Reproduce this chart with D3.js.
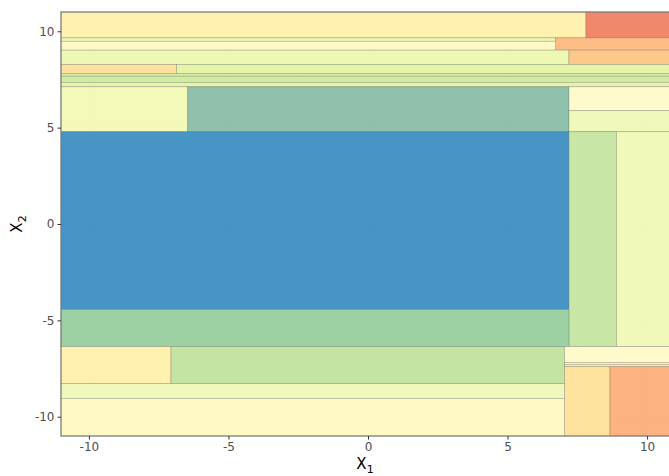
<!DOCTYPE html>
<html>
<head>
<meta charset="utf-8">
<script src="https://cdn.jsdelivr.net/npm/d3@7"></script>
<style>
  body { margin: 0; background: #fff; }
  text { font-family: "DejaVu Sans", sans-serif; }
</style>
</head>
<body>
<svg id="chart" width="669" height="476"></svg>
<script>
// fill colour of each leaf region
var levels = ["L1", "L2", "L3", "L4", "L5", "L6", "L7", "L8", "L9", "L10", "L11", "L12", "L13", "L14",
  "L15", "L16", "L17", "L18", "L19", "L20", "L21", "L22", "L23", "L24", "L25"]
var levelColors = ["#fff0aa", "#ef7f61", "#ecf6b0", "#fdb87c", "#fff9c2", "#edf7ae", "#fec482",
  "#fedf96", "#e3f3a2", "#d9eea0", "#cfe99c", "#e5f3a8", "#f2f9b3", "#87bca6", "#fffac8",
  "#f0f8b6", "#388dc1", "#c4e59f", "#eff8b5", "#96ce9c", "#bfe29b", "#fff4b4", "#fee198",
  "#fdad76", "#fff9c0"]

// regions: [x1 min, x1 max, x2 min, x2 max, level]
var regions = [
  [-11, 7.81, 9.66, 11, "L1"],
  [7.81, 11, 9.66, 11, "L2"],
  [-11, 6.72, 9.48, 9.66, "L3"],
  [6.72, 11, 9.02, 9.66, "L4"],
  [-11, 6.72, 9.02, 9.48, "L5"],
  [-11, 7.20, 8.28, 9.02, "L6"],
  [7.20, 11, 8.28, 9.02, "L7"],
  [-11, -6.86, 7.81, 8.28, "L8"],
  [-6.86, 11, 7.81, 8.28, "L9"],
  [-11, 11, 7.67, 7.81, "L10"],
  [-11, 11, 7.35, 7.67, "L11"],
  [-11, 11, 7.12, 7.35, "L12"],
  [-11, -6.46, 4.79, 7.12, "L13"],
  [-6.46, 7.20, 4.79, 7.12, "L14"],
  [7.20, 11, 5.88, 7.12, "L15"],
  [7.20, 11, 4.79, 5.88, "L16"],
  [-11, 7.20, -4.43, 4.79, "L17"],
  [7.20, 8.90, -6.36, 4.79, "L18"],
  [8.90, 11, -6.36, 4.79, "L19"],
  [-11, 7.20, -6.36, -4.43, "L20"],
  [-11, -7.06, -8.28, -6.36, "L1"],
  [-7.06, 7.04, -8.28, -6.36, "L21"],
  [7.04, 11, -7.18, -6.36, "L15"],
  [7.04, 11, -7.29, -7.18, "L22"],
  [7.04, 11, -7.40, -7.29, "L1"],
  [7.04, 8.67, -11, -7.40, "L23"],
  [8.67, 11, -11, -7.40, "L24"],
  [-11, 7.04, -9.05, -8.28, "L16"],
  [-11, 7.04, -11, -9.05, "L25"]
]

var xTicks = [-10, -5, 0, 5, 10]
var yTicks = [-10, -5, 0, 5, 10]
var xDomain = [-11, 11]
var yDomain = [-11, 11]

var svg = d3.select("#chart")
var margin = { top: 12, left: 61, bottom: 40 }
var panelW = 614, panelH = 476 - margin.top - margin.bottom

var x = d3.scaleLinear().domain(xDomain).range([margin.left, margin.left + panelW])
var y = d3.scaleLinear().domain(yDomain).range([margin.top + panelH, margin.top])
var color = d3.scaleOrdinal().domain(levels).range(levelColors)

// panel background + grid
svg.append("rect")
  .attr("x", x(xDomain[0])).attr("y", y(yDomain[1]))
  .attr("width", x(xDomain[1]) - x(xDomain[0]))
  .attr("height", y(yDomain[0]) - y(yDomain[1]))
  .attr("fill", "#fff")

var grid = svg.append("g")
grid.selectAll("line.gx")
  .data(d3.range(-10, 11, 2.5))
  .enter().append("line")
  .attr("x1", d => x(d)).attr("x2", d => x(d))
  .attr("y1", y(yDomain[0])).attr("y2", y(yDomain[1]))
  .attr("stroke", "#e6e6e6").attr("stroke-width", d => d % 5 == 0 ? 1 : 0.5)
grid.selectAll("line.gy")
  .data(d3.range(-10, 11, 2.5))
  .enter().append("line")
  .attr("y1", d => y(d)).attr("y2", d => y(d))
  .attr("x1", x(xDomain[0])).attr("x2", x(xDomain[1]))
  .attr("stroke", "#e6e6e6").attr("stroke-width", d => d % 5 == 0 ? 1 : 0.5)

// regions
svg.append("g")
  .selectAll("rect")
  .data(regions)
  .enter()
  .append("rect")
  .attr("x", d => x(d[0]))
  .attr("y", d => y(d[3]))
  .attr("width", d => x(d[1]) - x(d[0]))
  .attr("height", d => y(d[2]) - y(d[3]))
  .attr("fill", d => color(d[4]))
  .attr("fill-opacity", 0.93)
  .attr("stroke", "#4d4d4d")
  .attr("stroke-opacity", 0.35)
  .attr("stroke-width", 0.7)

// panel border
svg.append("rect")
  .attr("x", x(xDomain[0])).attr("y", y(yDomain[1]))
  .attr("width", x(xDomain[1]) - x(xDomain[0]))
  .attr("height", y(yDomain[0]) - y(yDomain[1]))
  .attr("fill", "none").attr("stroke", "#7f7f7f").attr("stroke-width", 1.2)

// axes
var xAxis = svg.append("g")
  .attr("transform", "translate(0," + y(yDomain[0]) + ")")
  .call(d3.axisBottom(x).tickValues(xTicks).tickSize(3.5).tickPadding(3).tickFormat(d3.format("d")))
var yAxis = svg.append("g")
  .attr("transform", "translate(" + x(xDomain[0]) + ",0)")
  .call(d3.axisLeft(y).tickValues(yTicks).tickSize(3.5).tickPadding(3).tickFormat(d3.format("d")))

;[xAxis, yAxis].forEach(function (ax) {
  ax.select(".domain").remove()
  ax.selectAll(".tick line").attr("stroke", "#333").attr("stroke-width", 1)
  ax.selectAll(".tick text")
    .attr("fill", "#4d4d4d")
    .style("font-size", "12px")
    .style("font-family", "DejaVu Sans, sans-serif")
})
xAxis.selectAll(".tick text").text(d => d < 0 ? "-" + Math.abs(d) : d)
yAxis.selectAll(".tick text").text(d => d < 0 ? "-" + Math.abs(d) : d)

// axis titles
var xt = svg.append("text")
  .attr("x", (x(xDomain[0]) + x(xDomain[1])) / 2 - 3)
  .attr("y", 469)
  .attr("text-anchor", "middle")
  .style("font-size", "15px")
  .attr("fill", "#000")
xt.append("tspan").text("X")
xt.append("tspan").attr("dy", 4).style("font-size", "11px").text("1")

var yt = svg.append("text")
  .attr("transform", "translate(22," + ((y(yDomain[0]) + y(yDomain[1])) / 2) + ")rotate(-90)")
  .attr("text-anchor", "middle")
  .style("font-size", "15px")
  .attr("fill", "#000")
yt.append("tspan").text("X")
yt.append("tspan").attr("dy", 4).style("font-size", "11px").text("2")
</script>
</body>
</html>
